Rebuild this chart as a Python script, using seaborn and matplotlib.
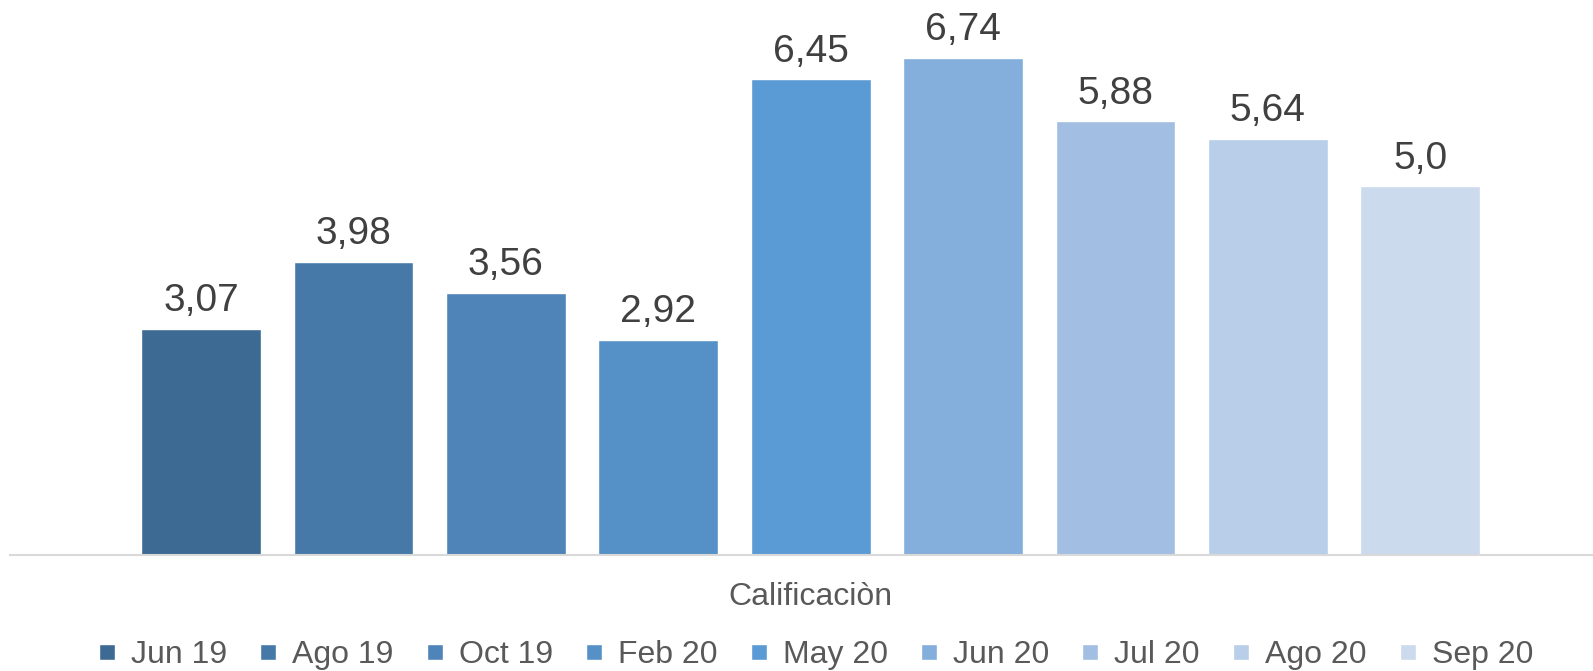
import numpy as np
import pandas as pd
import matplotlib.pyplot as plt
import seaborn as sns

# Datos del gráfico
meses = ['Jun 19', 'Ago 19', 'Oct 19', 'Feb 20', 'May 20',
         'Jun 20', 'Jul 20', 'Ago 20', 'Sep 20']
valores = [3.07, 3.98, 3.56, 2.92, 6.45, 6.74, 5.88, 5.64, 5.0]
serie = 'Calificaciòn'
colores = ['#3D6A93', '#4679A8', '#4E84B7', '#5591C7', '#5B9BD5',
           '#84AEDB', '#A2BEE2', '#B8CEE9', '#CCDAED']

df = pd.DataFrame({'serie': [serie] * len(meses), 'mes': meses, 'valor': valores})

sns.set_style('white')
plt.rcParams['font.family'] = ['Liberation Sans', 'DejaVu Sans']

fig = plt.figure(figsize=(15.93, 6.71), dpi=100)
ax = fig.add_axes([10 / 1593, 1 - 555.3 / 671, 1583 / 1593, 555.3 / 671])

sns.barplot(data=df, x='serie', y='valor', hue='mes', hue_order=meses,
            palette=colores, saturation=1, gap=0.213, width=0.8, ax=ax)

# Etiquetas de datos
for c, v in zip(ax.containers, valores):
    ax.bar_label(c, labels=[str(v).replace('.', ',')], padding=7,
                 fontsize=28, color='#404040')

ax.set_xlim(-0.467, 0.4563)
ax.set_ylim(0, 555.3 / 73.8)
ax.set_xlabel('')
ax.set_ylabel('')
ax.set_yticks([])
ax.tick_params(axis='x', length=0, pad=19, labelsize=23, labelcolor='#595959')

for s in ['top', 'left', 'right']:
    ax.spines[s].set_visible(False)
ax.spines['bottom'].set_color('#D9D9D9')
ax.spines['bottom'].set_linewidth(1.5)

handles, labels = ax.get_legend_handles_labels()
ax.legend(handles, labels, loc='center', bbox_to_anchor=(816 / 1593, 1 - 655 / 671),
          bbox_transform=fig.transFigure, ncol=9, frameon=False, fontsize=23,
          handlelength=0.5, handleheight=0.4, handletextpad=0.5,
          columnspacing=1.04, borderpad=0, labelcolor='#595959')

fig.savefig('out.png', dpi=100)
